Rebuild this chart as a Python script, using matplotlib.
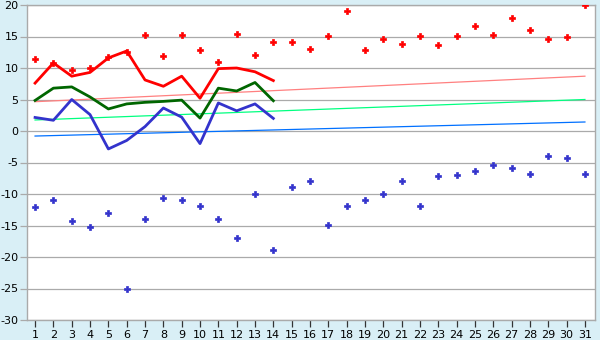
import matplotlib
matplotlib.use("Agg")
import matplotlib.pyplot as plt

days = list(range(1, 32))
line_days = list(range(1, 15))

max_points = [11.5, 10.8, 9.7, 10.0, 11.7, 12.6, 15.3, 11.9, 15.3, 12.85, 10.95, 15.4, 12.05, 14.1,
              14.1, 13.0, 15.1, 19.05, 12.85, 14.6, 13.8, 15.1, 13.65, 15.1, 16.7, 15.2, 17.9, 16.0,
              14.6, 14.9, 20.0]
min_points = [-12.0, -11.0, -14.3, -15.2, -13.0, -25.0, -14.0, -10.6, -11.0, -11.9, -14.0, -17.0,
              -10.0, -18.9, -8.9, -7.9, -14.9, -11.9, -10.95, -10.0, -7.9, -11.9, -7.15, -7.0,
              -6.35, -5.4, -5.9, -6.8, -4.0, -4.3, -6.8]

red_line = [7.6, 10.8, 8.7, 9.3, 11.6, 12.7, 8.1, 7.1, 8.7, 5.2, 9.9, 10.0, 9.4, 8.0]
green_line = [4.85, 6.8, 7.0, 5.4, 3.5, 4.3, 4.55, 4.7, 4.9, 2.05, 6.8, 6.35, 7.7, 4.8]
blue_line = [2.15, 1.7, 5.0, 2.6, -2.85, -1.5, 0.7, 3.65, 2.2, -2.0, 4.45, 3.2, 4.3, 2.0]

trend_days = [1, 31]
trend_pink = [4.65, 8.7]
trend_green = [1.75, 5.0]
trend_blue = [-0.8, 1.43]

y_ticks = [20, 15, 10, 5, 0, -5, -10, -15, -20, -25, -30]

bg = "#d9eff6"
fig = plt.figure(figsize=(6, 3.4), dpi=100, facecolor=bg)
ax = fig.add_axes([27/600, 20/340, 568/600, 315/340])
ax.set_facecolor("white")

for y in y_ticks:
    ax.axhline(y, color="#aaaaaa", lw=0.9, zorder=1)

ax.plot(trend_days, trend_pink, color="#ff8080", lw=0.9, zorder=2)
ax.plot(trend_days, trend_green, color="#00ff80", lw=0.9, zorder=2)
ax.plot(trend_days, trend_blue, color="#0070ff", lw=0.9, zorder=2)

ax.plot(line_days, red_line, color="#ff0000", lw=2, zorder=3)
ax.plot(line_days, green_line, color="#006600", lw=2, zorder=3)
ax.plot(line_days, blue_line, color="#3333cc", lw=2, zorder=3)

ax.plot(days, max_points, ls="none", marker="P", ms=4.5, color="#ff0000", mec="#ff0000", mew=0.5, zorder=4)
ax.plot(days, min_points, ls="none", marker="P", ms=4.5, color="#3333cc", mec="#3333cc", mew=0.5, zorder=4)

ax.set_xlim(0.56, 31.55)
ax.set_ylim(-30, 20)
ax.set_xticks(days)
ax.set_xticklabels([str(d) for d in days], fontsize=8)
ax.set_yticks(y_ticks)
ax.set_yticklabels([str(y) for y in y_ticks], fontsize=8)
ax.tick_params(axis="x", direction="out", length=5, width=0.9, color="#333333", pad=2)
ax.tick_params(axis="y", direction="out", length=5, width=0.9, color="#aaaaaa", pad=1)
for s in ax.spines.values():
    s.set_color("#aaaaaa")
    s.set_linewidth(1.0)

fig.savefig("out.png", dpi=100, facecolor=bg)
